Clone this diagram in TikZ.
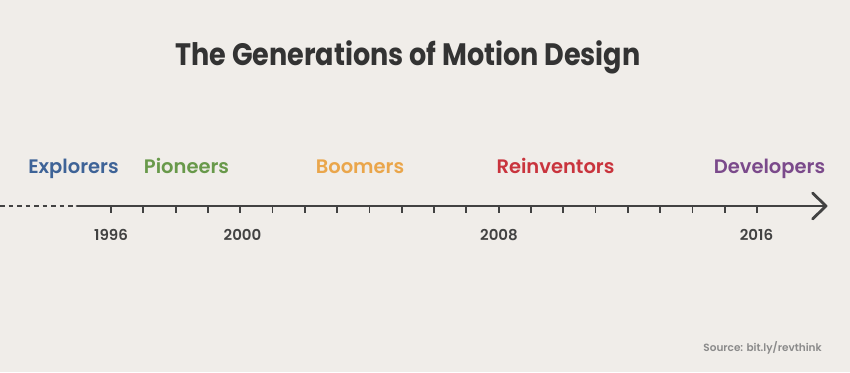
\documentclass[tikz,border=0pt]{standalone}
\usepackage{fontspec}
\setmainfont{Poppins}[BoldFont={* SemiBold}]
\newfontfamily\heavy{Poppins Bold}
\begin{document}
\begin{tikzpicture}[x=1pt,y=-1pt,
  axisline/.style={draw=axisgray,line width=2.8pt},
  tickline/.style={draw=axisgray,line width=1.8pt},
  gen/.style={font=\fontsize{19.5}{22}\selectfont\bfseries,inner sep=0pt,anchor=base},
  yearlbl/.style={font=\fontsize{15}{17}\selectfont\bfseries,text=axisgray,inner sep=0pt,anchor=base},
]
\definecolor{bg}{HTML}{F0EDE9}
\definecolor{axisgray}{HTML}{424242}
\definecolor{titlegray}{HTML}{333333}
\definecolor{cExpl}{HTML}{3E6397}
\definecolor{cPion}{HTML}{68994A}
\definecolor{cBoom}{HTML}{EAA64B}
\definecolor{cRein}{HTML}{C9343D}
\definecolor{cDev}{HTML}{7B4A8B}
\definecolor{srcgray}{HTML}{8A8A8A}
\fill[bg] (0,0) rectangle (850,372);
\useasboundingbox (0,0) rectangle (850,372);

\node[inner sep=0pt,anchor=base,text=titlegray,font=\fontsize{31}{34}\selectfont\heavy] (title) at (408,65) {\scalebox{0.873}[1]{The Generations of Motion Design}};

\node[gen,text=cExpl] (expl) at (73.5,173) {Explorers};
\node[gen,text=cPion] (pion) at (186.5,173) {Pioneers};
\node[gen,text=cBoom] (boom) at (360,173) {Boomers};
\node[gen,text=cRein] (rein) at (555.5,173) {Reinventors};
\node[gen,text=cDev] (dev) at (769.5,173) {Developers};

\coordinate (dstart) at (0,206);
\coordinate (dend) at (73,206);
\coordinate (sstart) at (77,206);
\coordinate (tip) at (826,206);
\draw[axisgray,line width=2.6pt,dash pattern=on 4.5pt off 4pt] (dstart) -- (dend);
\draw[axisline,line cap=round] (sstart) -- (tip);
\coordinate (hTop) at (812.5,193);
\coordinate (hBot) at (812.5,219);
\draw[axisline,line cap=round,line join=round] (hTop) -- (tip) -- (hBot);

\foreach \i in {0,...,20}{
  \coordinate (t\i) at ({111+\i*32.3},206);
  \coordinate (b\i) at ({111+\i*32.3},213);
  \draw[tickline] (t\i) -- (b\i);
}

\node[yearlbl] (y1996) at (111,240.5) {1996};
\node[yearlbl] (y2000) at (242.5,240.5) {2000};
\node[yearlbl] (y2008) at (499,240.5) {2008};
\node[yearlbl] (y2016) at (756.5,240.5) {2016};

\node[inner sep=0pt,anchor=base east,text=srcgray,font=\fontsize{10.5}{12}\selectfont\bfseries] (src) at (822,351) {Source: bit.ly/revthink};
\end{tikzpicture}
\end{document}
